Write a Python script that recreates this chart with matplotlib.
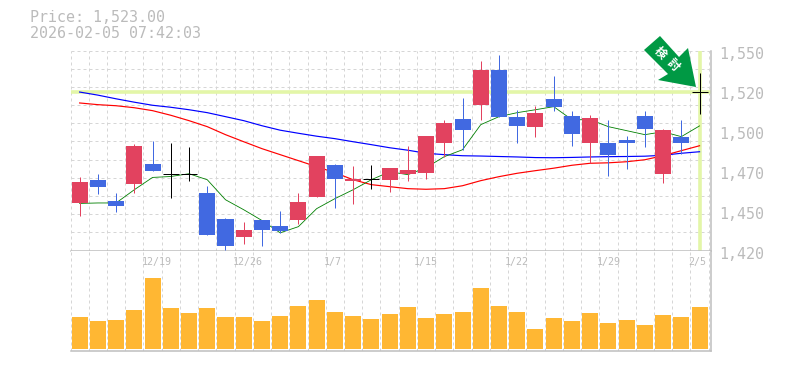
import matplotlib
matplotlib.use("Agg")
import matplotlib.pyplot as plt
from matplotlib.patches import Polygon
from matplotlib.transforms import ScaledTranslation

W, H = 785, 370

# 日足 (open, high, low, close)
opens = [1450.6, 1466, 1452, 1463, 1476.4, 1470, 1470, 1457.5, 1440.6, 1429, 1440, 1436, 1440, 1455, 1475.8, 1465.4,
         1466.5, 1466, 1470, 1470.6, 1490, 1505.7, 1514.8, 1537.5, 1507, 1500.5, 1518.7, 1507.6, 1490, 1490, 1492,
         1507.6, 1470, 1494, 1523]
highs = [1468, 1470, 1457.5, 1489, 1491, 1490, 1487, 1462, 1441, 1438.7, 1440, 1446, 1457.5, 1481.6, 1476.4, 1475,
         1475.8, 1473.8, 1488, 1494.6, 1505, 1519, 1543.4, 1547, 1511.5, 1514, 1533.6, 1510.9, 1508, 1505, 1494.6,
         1510.9, 1499, 1505, 1535.5]
lows = [1442.6, 1457, 1445, 1457.5, 1472, 1454, 1465, 1430, 1420.5, 1424.4, 1423, 1431.5, 1437.4, 1455, 1447.8,
        1450.4, 1460, 1458.2, 1465.4, 1466.7, 1481, 1485.5, 1505, 1507, 1490, 1494, 1510.9, 1488, 1477, 1468.6, 1473,
        1487.4, 1464, 1483, 1509]
closes = [1464.7, 1461.6, 1449, 1488, 1472, 1470, 1470, 1430, 1423, 1433.5, 1433.5, 1433, 1451.7, 1481.6, 1466.7,
          1466.7, 1466.5, 1473.8, 1472.5, 1494.6, 1503, 1498.5, 1537.5, 1507, 1501, 1509.6, 1513.5, 1495.9, 1506.3,
          1482, 1490, 1499, 1498.5, 1490, 1523]

# 移動平均線
ma_short = [1450.6, 1450.9, 1450.9, 1459.5, 1467.5, 1468.1, 1469.9, 1466, 1453, 1446.5, 1439.5, 1431.5, 1435.5,
            1447.2, 1453.7, 1459.5, 1466, 1471.2, 1469.3, 1473.8, 1481, 1485.5, 1501.8, 1507, 1509.6, 1511.5, 1513.5,
            1505, 1505, 1500.5, 1497.9, 1495.3, 1497.2, 1494, 1501]
ma_mid = [1515.9, 1514.8, 1514.1, 1512.8, 1510.9, 1507.9, 1504.4, 1500.5, 1495.3, 1490.7, 1486.2, 1482.3, 1478.4,
          1474.5, 1470.6, 1466, 1462.8, 1461.5, 1460.2, 1459.8, 1460.2, 1462.1, 1465.4, 1468, 1470.2, 1471.9, 1473.5,
          1475.4, 1476.7, 1477, 1477.7, 1479, 1481.6, 1484.9, 1488.1]
ma_long = [1523, 1521, 1518.6, 1516.4, 1514.4, 1513.1, 1511.5, 1509.6, 1507, 1504.4, 1501.1, 1498.2, 1496.2, 1494.3,
           1492.7, 1490.7, 1488.8, 1486.8, 1485.2, 1483.2, 1482.3, 1481.6, 1481.4, 1481.1, 1480.8, 1480.4, 1480.3,
           1480.5, 1480.8, 1481, 1481.1, 1481.3, 1481.9, 1483.2, 1484.2]

volumes = [32, 28, 29, 39, 71, 41, 36, 41, 32, 32, 28, 33, 43, 49, 37, 33, 30, 35, 42, 31, 35, 37, 61, 43, 37, 20, 31,
           28, 36, 26, 29, 24, 34, 32, 42]

price_ticks = [1420, 1446, 1472, 1498, 1524, 1550]
price_labels = ["1,420", "1,450", "1,470", "1,500", "1,520", "1,550"]
date_pos = [4, 9, 14, 19, 24, 29, 34]
date_labels = ["12/19", "12/26", "1/7", "1/15", "1/22", "1/29", "2/5"]
date_nudge = [4, 4, -2, 0, 0, 0, -2.5]
last_price = 1523

RED = "#E2425F"
BLUE = "#4169E1"
LIME = "#E3F6A8"
GRID = "#D6D6D6"
AXIS = "#BFBFBF"
TEXT = "#BBBBBB"
MONO = "DejaVu Sans Mono"


def box(left, top, right, bottom):
    return [left / W, 1 - bottom / H, (right - left) / W, (bottom - top) / H]


fig = plt.figure(figsize=(W / 100, H / 100), dpi=100)
ax = fig.add_axes(box(70.5, 50.5, 710.5, 250.5))
vol = fig.add_axes(box(70.5, 250.5, 710.5, 350.5))

xs = range(len(closes))
dash = (0, (3, 3))
for a in (ax, vol):
    a.set_xlim(-0.5, 34.6)
    for i in xs:
        a.axvline(i - 0.5, color=GRID, lw=0.72, ls=dash, zorder=0)
    a.axvline(34.5, color=GRID, lw=0.72, ls=dash, zorder=0)
    a.spines["left"].set_visible(False)
    a.spines["top"].set_visible(False)
    a.spines["right"].set_color(AXIS)
    a.spines["bottom"].set_color(AXIS)
    a.spines["right"].set_linewidth(1.1)
    a.spines["bottom"].set_linewidth(1.1)
    a.tick_params(length=0)
    a.set_xticks([])

# 価格
ax.set_ylim(1420, 1550)
for k in range(12):
    ax.axhline(1420 + k * 130 / 11, color=GRID, lw=0.72, ls=dash, zorder=0)

ax.axhline(last_price, color=LIME, lw=2.6, zorder=1)
ax.axvline(34, color=LIME, lw=2.6, zorder=1)

ax.plot(xs, ma_long, color="#0000FF", lw=0.85, zorder=2)
ax.plot(xs, ma_mid, color="#FF0000", lw=0.85, zorder=2)
ax.plot(xs, ma_short, color="#007F00", lw=0.6, zorder=2)

for i in xs:
    o, h, l, c = opens[i], highs[i], lows[i], closes[i]
    if c == o:
        ax.plot([i, i], [l, h], color="black", lw=0.72, zorder=3, solid_capstyle="butt")
        ax.plot([i - 0.44, i + 0.44], [c, c], color="black", lw=0.72, zorder=3, solid_capstyle="butt")
        continue
    col = RED if c > o else BLUE
    ax.plot([i, i], [l, h], color=col, lw=0.72, zorder=3, solid_capstyle="butt")
    ax.bar(i, abs(c - o), bottom=min(o, c), width=0.88, color=col, zorder=3)

ax.yaxis.tick_right()
ax.set_yticks(price_ticks)
ax.set_yticklabels(price_labels, family=MONO, fontsize=10.8, color=TEXT)
ax.tick_params(axis="y", pad=6)
down = ScaledTranslation(0, -2.5 / 100, fig.dpi_scale_trans)
for lab in ax.get_yticklabels():
    lab.set_transform(lab.get_transform() + down)

# 出来高
vol.bar(xs, volumes, width=0.88, color="#FFB733", zorder=2)
vol.set_ylim(-2, 98)
vol.set_yticks([])
for p, s, n in zip(date_pos, date_labels, date_nudge):
    vol.annotate(s, (p, 1), xycoords=("data", "axes fraction"), xytext=(n * 0.72, -8.3),
                 textcoords="offset points", ha="center", va="center", family=MONO, fontsize=7.2, color=TEXT, zorder=3)

fig.text(30 / W, 1 - 18 / H, "Price: 1,523.00", family=MONO, fontsize=10.8, color=TEXT, va="center")
fig.text(30 / W, 1 - 33 / H, "2026-02-05 07:42:03", family=MONO, fontsize=10.8, color=TEXT, va="center")

# 矢印
arrow = [(660, 36), (679, 57), (688, 48), (696, 87), (658, 80), (668, 74), (644, 50)]
fig.add_artist(Polygon([(x / W, 1 - y / H) for x, y in arrow], closed=True, transform=fig.transFigure,
                       facecolor="#009944", edgecolor="none", zorder=5))
fig.text(660 / W, 1 - 53 / H, "検", family="Noto Sans CJK JP", fontsize=8.5, fontweight="bold", color="white",
         rotation=-45, ha="center", va="center", zorder=6)
fig.text(673 / W, 1 - 65 / H, "討", family="Noto Sans CJK JP", fontsize=8.5, fontweight="bold", color="white",
         rotation=-45, ha="center", va="center", zorder=6)

fig.savefig("out.png", dpi=100)
